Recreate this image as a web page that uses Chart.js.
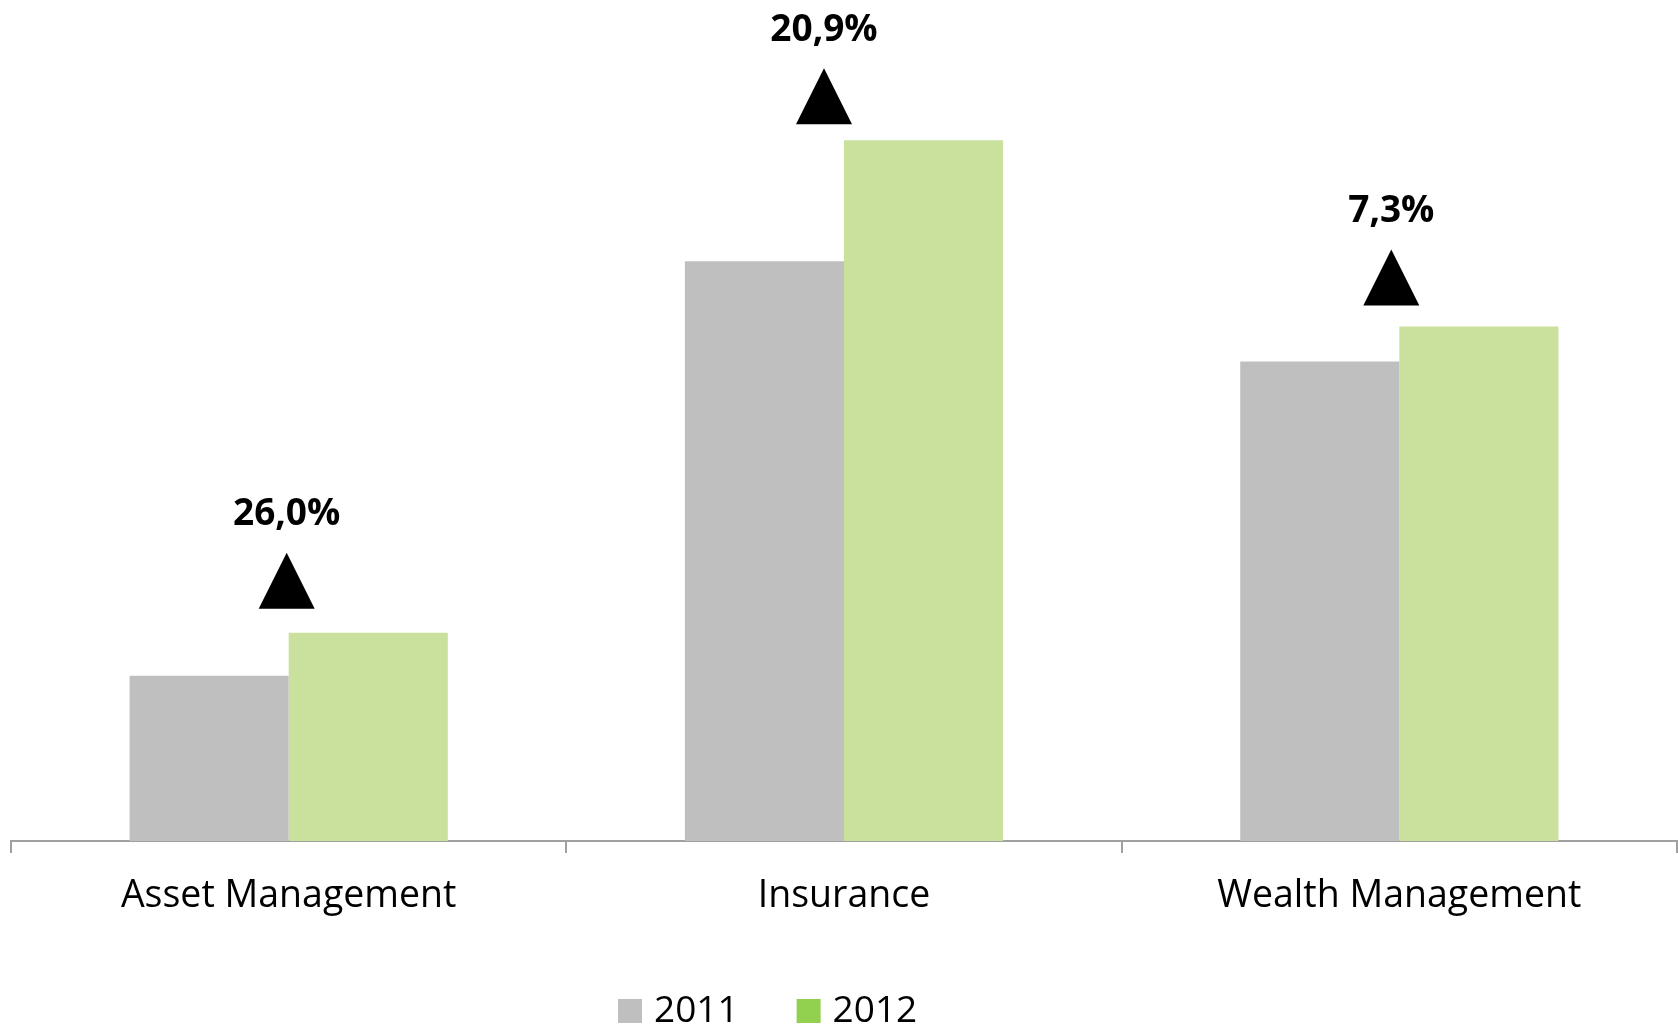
<!DOCTYPE html>
<html>
<head>
<meta charset="utf-8">
<title>Revenues by business line</title>
<script src="https://cdn.jsdelivr.net/npm/chart.js@4/dist/chart.umd.min.js"></script>
<style>
  html, body { margin: 0; padding: 0; background: #fff; }
  #wrap { width: 1678px; height: 1029px; }
</style>
</head>
<body>
<div id="wrap"><canvas id="revChart"></canvas></div>
<script>
/* Business lines, 2011 vs 2012 */

const categories = ['Asset Management', 'Insurance', 'Wealth Management'];
const years = ['2011', '2012'];
const values2011 = [165, 579, 479];
const values2012 = [207.9, 700, 514];
const growthLabels = ['26,0%', '20,9%', '7,3%'];

const FONT = '"Open Sans", "DejaVu Sans", sans-serif';
const barColors = ['#BFBFBF', '#C9E19C'];
const legendColors = ['#BFBFBF', '#92D050'];

// up-arrow + growth % above each 2012 bar
const growthMarkers = {
  id: 'growthMarkers',
  afterDatasetsDraw(chart, args, opts) {
    const ctx = chart.ctx;
    const bars = chart.getDatasetMeta(1).data;
    const x = chart.scales.x;
    ctx.save();
    growthLabels.forEach((txt, i) => {
      const cx = x.getPixelForValue(i) + (opts.nudge[i] || 0);
      const bottom = bars[i].y - opts.gap[i];
      const top = bottom - opts.size;
      ctx.fillStyle = '#000';
      ctx.beginPath();
      ctx.moveTo(cx, top);
      ctx.lineTo(cx + opts.size / 2, bottom);
      ctx.lineTo(cx - opts.size / 2, bottom);
      ctx.closePath();
      ctx.fill();
      ctx.font = 'bold 37px ' + FONT;
      ctx.textAlign = 'center';
      ctx.textBaseline = 'middle';
      ctx.fillText(txt, cx, top - 38);
    });
    ctx.restore();
  }
};

// legend drawn by hand so the swatches can use the full-strength colours
const yearLegend = {
  id: 'yearLegend',
  afterDraw(chart, args, opts) {
    const ctx = chart.ctx;
    ctx.save();
    ctx.font = '37px ' + FONT;
    ctx.textBaseline = 'middle';
    ctx.textAlign = 'left';
    let xPos = opts.x;
    chart.data.datasets.forEach((ds, i) => {
      ctx.fillStyle = legendColors[i];
      ctx.fillRect(xPos, opts.y - 12, 24, 24);
      xPos += 36;
      ctx.fillStyle = '#000';
      ctx.fillText(ds.label, xPos, opts.y);
      xPos += ctx.measureText(ds.label).width + 58;
    });
    ctx.restore();
  }
};

new Chart(document.getElementById('revChart').getContext('2d'), {
  type: 'bar',
  data: {
    labels: categories,
    datasets: [
      { label: years[0], data: values2011, backgroundColor: barColors[0] },
      { label: years[1], data: values2012, backgroundColor: barColors[1] }
    ]
  },
  options: {
    responsive: true,
    maintainAspectRatio: false,
    animation: false,
    categoryPercentage: 0.573,
    barPercentage: 1,
    layout: { padding: { top: 0, left: 11, right: 1, bottom: 89 } },
    scales: {
      x: {
        grid: { display: true, drawOnChartArea: false, color: '#A0A0A0', lineWidth: 2, tickLength: 12 },
        border: { display: true, color: '#A0A0A0', width: 2 },
        ticks: { color: '#000', font: { family: FONT, size: 37.5 }, padding: 21 }
      },
      y: { display: false, min: 0, max: 840 }
    },
    plugins: {
      legend: { display: false },
      tooltip: { enabled: false },
      growthMarkers: { gap: [24, 16, 21], size: 56, nudge: [-2, -20, -8] },
      yearLegend: { x: 618, y: 1011 }
    }
  },
  plugins: [growthMarkers, yearLegend]
});
</script>
</body>
</html>
